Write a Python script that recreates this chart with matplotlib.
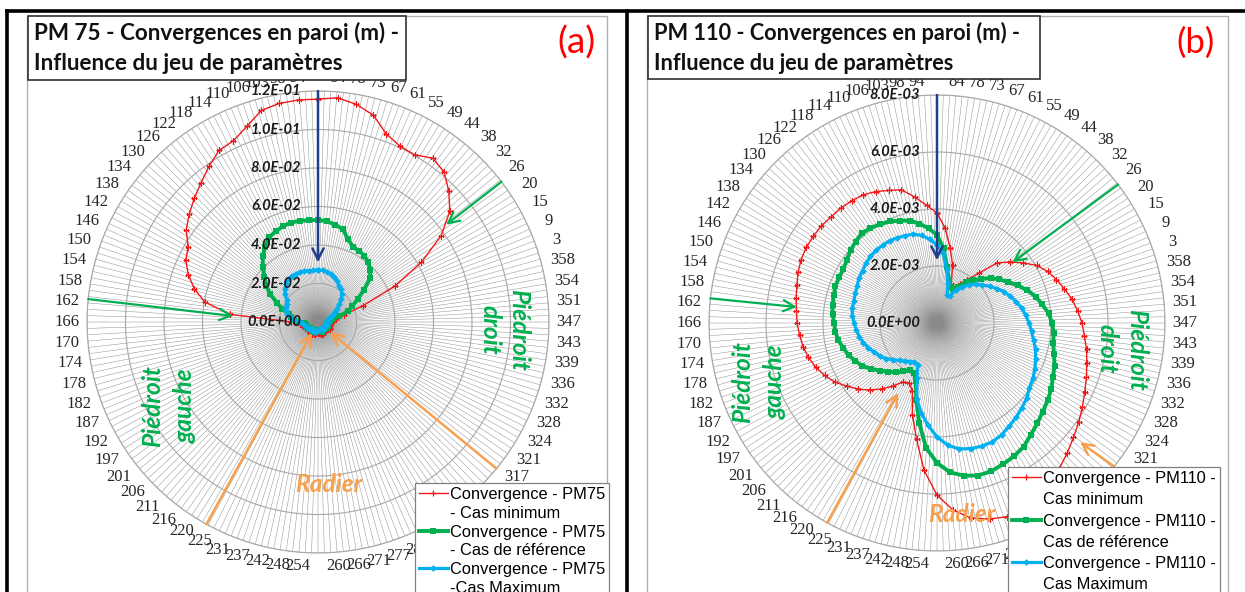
import numpy as np
import matplotlib
matplotlib.use("Agg")
import matplotlib.pyplot as plt
from matplotlib.lines import Line2D
from matplotlib.patches import Rectangle

# ---------------- data ----------------
# one value every 5 degrees of chart position, clockwise from the top (values in mm)
pos_step_deg = 5

pm75_min = [115.8, 116.9, 114.8, 111.2, 103.9, 100.8, 100.3, 103.9, 101.8, 96.1, 89.4, 78.0,
            62.0, 44.0, 25.0, 14.0, 9.4,
            8.0, 7.2, 6.8, 6.5, 6.2, 6.4, 6.8, 7.0, 6.5, 6.0, 5.6, 5.4, 5.8, 6.2, 6.6, 6.8, 6.4,
            6.0, 5.8, 5.5, 5.4, 5.8, 6.2, 6.6, 7.0, 7.4, 7.0, 6.5, 6.2, 6.0, 6.4, 6.8, 7.2, 7.4,
            7.8, 8.4, 9.6,
            14.0, 45.7, 59.7, 66.5, 71.7, 75.8, 77.9, 83.6, 87.3, 90.9, 94.5, 98.7, 102.9, 103.9,
            108.1, 113.8, 115.3, 115.8]
pm75_ref = [53.0, 52.5, 51.4, 49.9, 45.7, 43.1, 42.6, 42.1, 40.5, 38.4, 35.3, 29.1, 23.9, 19.7,
            16.6, 11.4, 7.8,
            6.4, 5.8, 5.4, 5.2, 5.0, 5.2, 5.5, 5.6, 5.2, 4.8, 4.6, 4.5, 4.8, 5.0, 5.3, 5.4, 5.1,
            4.8, 4.6, 4.4, 4.5, 4.8, 5.1, 5.4, 5.6, 5.8, 5.5, 5.2, 5.0, 5.1, 5.4, 5.8, 6.2, 6.4,
            6.6, 6.8,
            7.3, 10.4, 12.5, 14.0, 15.6, 19.7, 23.4, 28.6, 32.7, 36.4, 40.5, 44.7, 47.8, 50.9,
            51.9, 53.0, 53.5, 53.5, 53.0]
pm75_max = [27.0, 27.0, 26.5, 26.0, 24.9, 23.4, 21.8, 20.8, 19.2, 17.1, 14.5, 11.9, 9.9, 7.8, 6.2,
            5.4, 5.0, 4.8, 4.6, 4.5, 4.6, 4.8, 5.0, 4.6, 4.2, 4.0, 3.8, 4.0, 4.4, 4.8, 5.0, 4.6,
            4.2, 3.9, 3.8, 4.0, 4.4, 4.8, 5.2, 5.4, 5.6, 5.2, 4.8, 4.6, 4.8, 5.2, 5.6, 6.0, 6.2,
            6.4, 6.6, 7.0, 7.6, 8.4,
            9.4, 12.5, 14.5, 16.6, 17.7, 18.2, 18.7, 19.7, 22.3, 24.4, 26.0, 27.0, 27.5, 27.5,
            27.5, 27.5, 27.0, 27.0]

pm110_min = [3.86, 3.33, 2.67, 2.11, 1.47, 1.33, 1.58, 1.86, 2.28, 2.98, 3.33, 3.68, 4.04, 4.28,
             4.46, 4.63, 4.81, 4.95, 5.09, 5.19, 5.33, 5.44, 5.58, 5.72, 5.89, 6.07, 6.25, 6.46,
             6.67, 6.88, 7.02, 7.16, 7.23, 7.12, 6.95, 6.60, 6.04, 5.19, 4.14, 3.33, 2.53, 2.32,
             2.39, 2.70, 3.02, 3.33, 3.61, 3.86, 4.14, 4.35, 4.53, 4.67, 4.77, 4.84, 4.91, 4.95,
             5.02, 5.09, 5.19, 5.26, 5.30, 5.30, 5.30, 5.26, 5.26, 5.23, 5.19, 5.09, 4.95, 4.84,
             4.49, 4.14]
pm110_ref = [3.09, 2.63, 2.00, 1.58, 1.33, 1.30, 1.47, 1.75, 1.96, 2.18, 2.46, 2.67, 2.88, 3.12,
             3.37, 3.58, 3.75, 3.93, 4.04, 4.11, 4.14, 4.25, 4.39, 4.49, 4.63, 4.74, 4.84, 4.98,
             5.12, 5.30, 5.40, 5.47, 5.54, 5.54, 5.44, 5.26, 4.91, 4.39, 3.58, 2.81, 2.18, 1.93,
             1.89, 2.07, 2.25, 2.42, 2.60, 2.81, 3.02, 3.16, 3.30, 3.40, 3.51, 3.58, 3.61, 3.68,
             3.72, 3.75, 3.79, 3.79, 3.79, 3.86, 3.96, 4.04, 4.11, 4.07, 4.00, 3.93, 3.82, 3.72,
             3.54, 3.33]
pm110_max = [2.74, 2.46, 1.93, 1.47, 1.05, 1.05, 1.33, 1.54, 1.75, 1.93, 2.07, 2.25, 2.42, 2.60,
             2.74, 2.88, 3.02, 3.12, 3.23, 3.33, 3.44, 3.58, 3.68, 3.79, 3.89, 3.96, 4.11, 4.21,
             4.32, 4.42, 4.53, 4.60, 4.60, 4.56, 4.49, 4.30, 4.00, 3.60, 3.20, 2.75, 2.05, 1.61,
             1.58, 1.65, 1.75, 1.86, 2.00, 2.18, 2.32, 2.42, 2.56, 2.67, 2.77, 2.84, 2.91, 2.98,
             3.02, 3.02, 3.05, 3.09, 3.16, 3.19, 3.26, 3.30, 3.33, 3.33, 3.33, 3.30, 3.26, 3.23,
             3.12, 2.95]

# category (angle) labels shown around the chart, clockwise from the top
cat_labels = ['', '84', '78', '73', '67', '61', '55', '49', '44', '38', '32', '26', '20', '15',
              '9', '3', '358', '354', '351', '347', '343', '339', '336', '332', '328', '324',
              '321', '317', '312', '306', '300', '294', '288', '282', '277', '271', '266', '260',
              '', '254', '248', '242', '237', '231', '225', '220', '216', '211', '206', '201',
              '197', '192', '187', '182', '178', '174', '170', '166', '162', '158', '154', '150',
              '146', '142', '138', '134', '130', '126', '122', '118', '114', '110', '106', '103',
              '98', '94']
n_spokes = 228

rticks_a = [0.0, 0.02, 0.04, 0.06, 0.08, 0.10, 0.12]
rticks_b = [0.0, 0.002, 0.004, 0.006, 0.008]

legend_a = [('Convergence - PM75', '- Cas minimum'), ('Convergence - PM75', '- Cas de référence'),
            ('Convergence - PM75', '-Cas Maximum')]
legend_b = [('Convergence - PM110 -', 'Cas minimum'), ('Convergence - PM110 -', 'Cas de référence'),
            ('Convergence - PM110 -', 'Cas Maximum')]
title_a = ['PM 75 - Convergences en paroi (m) -', 'Influence du jeu de paramètres']
title_b = ['PM 110 - Convergences en paroi (m) -', 'Influence du jeu de paramètres']

# ---------------- style ----------------
RED, GREEN, BLUE = '#f01818', '#00b050', '#00b0f0'
ORANGE, NAVY = '#f7a04e', '#1f3f8c'
styles = [dict(color=RED, lw=1.0, marker='+', ms=5, mew=0.9),
          dict(color=GREEN, lw=2.8, marker='s', ms=4.4, mew=0),
          dict(color=BLUE, lw=2.3, marker='D', ms=3.4, mew=0)]

W, H = 1245, 592
fig = plt.figure(figsize=(W / 100, H / 100), dpi=100)
fig.patch.set_facecolor('white')
renderer = fig.canvas.get_renderer()


def fit(t, target, rot=0):
    ext = t.get_window_extent(renderer)
    t.set_fontsize(t.get_fontsize() * target / ext.width)
    t.set_rotation(rot)
    return t.get_fontsize()


def fX(px):
    return px / W


def fY(py):
    return 1 - py / H


# frames
for xs, ys in [([7, 1245], [11, 11]), ([7, 7], [11, 592]), ([627, 627], [11, 592])]:
    fig.add_artist(Line2D([fX(x) for x in xs], [fY(y) for y in ys], color='black', lw=2.6))
for x0, x1 in [(27, 607), (647, 1228)]:
    fig.add_artist(Rectangle((fX(x0), fY(600)), (x1 - x0) / W, (600 - 16) / H,
                             transform=fig.transFigure, fill=False, edgecolor='#b0b0b0', lw=1))

# radial label size: "8.0E-02" is about 50 px wide
_t = fig.text(0, 0, '8.0E-02', fontsize=10, fontweight='bold', fontstyle='italic', family='Lato')
RFS = fit(_t, 50)
_t.remove()


def panel(cx, cy, R, rticks, series, leg_labels, leg_xy, leg_space, titles, tbox, tag, tag_xy,
          arrows, words):
    ax = fig.add_axes([fX(cx - R), fY(cy + R), 2 * R / W, 2 * R / H], projection='polar')
    ax.set_theta_zero_location('N')
    ax.set_theta_direction(-1)
    rmax = rticks[-1]
    ax.set_ylim(0, rmax)
    ax.set_facecolor('none')
    ax.set_xticks(np.linspace(0, 2 * np.pi, n_spokes, endpoint=False))
    ax.set_yticks(rticks[1:])
    ax.set_xticklabels([])
    ax.set_yticklabels([])
    ax.tick_params(length=0)
    ax.xaxis.grid(True, color='#8a8a8a', lw=0.33)
    ax.yaxis.grid(True, color='#a8a8a8', lw=0.8)
    ax.spines['polar'].set_color('#a8a8a8')
    ax.spines['polar'].set_linewidth(0.8)
    ax.set_axisbelow(True)

    handles, labels = [], []
    for vals, st, (l1, l2) in zip(series, styles, leg_labels):
        v = np.asarray(vals) * 1e-3
        th = np.deg2rad(np.arange(len(v)) * pos_step_deg)
        ax.plot(np.append(th, th[0] + 2 * np.pi), np.append(v, v[0]), zorder=3, **st)
        handles += [Line2D([], [], **st), Line2D([], [], color='none')]
        labels += [l1, l2]

    # category labels
    n = len(cat_labels)
    for k, lab in enumerate(cat_labels):
        if not lab:
            continue
        t = 2 * np.pi * k / n
        off = 7 + 13 * abs(np.sin(t)) + 6 * abs(np.cos(t))
        ax.text(t, rmax * (R + off) / R, lab, ha='center', va='center', fontsize=12,
                family='Liberation Serif', color='#262626', clip_on=False)

    # radial labels
    for v in rticks:
        ax.annotate(f'{v:.1E}', xy=(0, v), xytext=(-17, 0), textcoords='offset pixels',
                    ha='right', va='center', fontsize=RFS, fontweight='bold',
                    fontstyle='italic', family='Lato', color='#1a1a1a',
                    annotation_clip=False, zorder=4)

    # arrows (theta deg, r)
    for color, t0, r0, t1, r1, lw in arrows:
        ax.annotate('', xy=(np.deg2rad(t1), r1), xytext=(np.deg2rad(t0), r0),
                    arrowprops=dict(arrowstyle='->,head_length=0.8,head_width=0.4',
                                    color=color, lw=lw, shrinkA=0, shrinkB=0),
                    annotation_clip=False, zorder=5)

    # legend (handle on the first line of each entry)
    leg = fig.legend(handles, labels, loc='upper left',
                     bbox_to_anchor=(fX(leg_xy[0]), fY(leg_xy[1])),
                     bbox_transform=fig.transFigure, frameon=True, fancybox=False,
                     borderaxespad=0, borderpad=0.25, handlelength=1.75, handletextpad=0.12,
                     labelspacing=leg_space, framealpha=1,
                     prop=dict(family='Liberation Sans', size=11.8))
    leg.get_frame().set_edgecolor('#808080')
    leg.get_frame().set_linewidth(0.9)

    # title box
    x0, y0, x1, y1 = tbox
    fig.add_artist(Rectangle((fX(x0), fY(y1)), (x1 - x0) / W, (y1 - y0) / H,
                             transform=fig.transFigure, facecolor='white',
                             edgecolor='#303030', lw=1.2, zorder=6))
    t1 = fig.text(fX(x0 + 6), fY(y0 + 17), titles[0], ha='left', va='center',
                  fontweight='bold', family='Lato', fontsize=15, color='#111111', zorder=7)
    fs = fit(t1, 367)
    fig.text(fX(x0 + 6), fY(y0 + 47), titles[1], ha='left', va='center',
             fontweight='bold', family='Lato', fontsize=fs, color='#111111', zorder=7)
    tg = fig.text(fX(tag_xy[0]), fY(tag_xy[1]), tag, ha='center', va='center',
                  family='Lato', fontsize=20, color='#ff0000')
    fit(tg, 38)

    # words
    fsw = None
    for txt, x, y, rot, col in words:
        t = fig.text(fX(x), fY(y), txt, ha='center', va='center', fontweight='bold',
                     fontstyle='italic', family='Lato', fontsize=15, color=col, zorder=6)
        if fsw is None:
            fsw = fit(t, 82, rot)
        else:
            t.set_fontsize(fsw)
            t.set_rotation(rot)
    return ax


panel(318, 322, 231, rticks_a, [pm75_min, pm75_ref, pm75_max], legend_a, (415, 483), 0.23,
      title_a, (28, 16, 406, 80), '(a)', (576, 43),
      [(NAVY, 0, 0.12, 0, 0.031, 1.8),
       (GREEN, 52.6, 0.12, 52.8, 0.0836, 1.6),
       (GREEN, 275.7, 0.12, 274.0, 0.0442, 1.6),
       (ORANGE, 208.9, 0.12, 208.6, 0.0065, 1.8),
       (ORANGE, 129.4, 0.12, 129.8, 0.0081, 1.8)],
      [('Piédroit', 519, 330, 270, GREEN), ('droit', 490, 330, 270, GREEN),
       ('Piédroit', 153, 406, 90, GREEN), ('gauche', 185, 406, 90, GREEN),
       ('Radier', 329, 484, 0, ORANGE)])

panel(937, 323, 228, rticks_b, [pm110_min, pm110_ref, pm110_max], legend_b, (1008, 467), 0.38,
      title_b, (648, 16, 1040, 79), '(b)', (1196, 43),
      [(NAVY, 0, 0.008, 0, 0.0022, 1.8),
       (GREEN, 52.6, 0.008, 51.2, 0.0034, 1.6),
       (GREEN, 276.2, 0.008, 276.5, 0.00495, 1.6),
       (ORANGE, 208.8, 0.008, 209.0, 0.0028, 1.8),
       (ORANGE, 129.0, 0.008, 129.8, 0.00653, 1.8)],
      [('Piédroit', 1137, 350, 270, GREEN), ('droit', 1107, 349, 270, GREEN),
       ('Piédroit', 743, 382, 90, GREEN), ('gauche', 775, 382, 90, GREEN),
       ('Radier', 962, 514, 0, ORANGE)])

fig.savefig('out.png', dpi=100, facecolor='white')
